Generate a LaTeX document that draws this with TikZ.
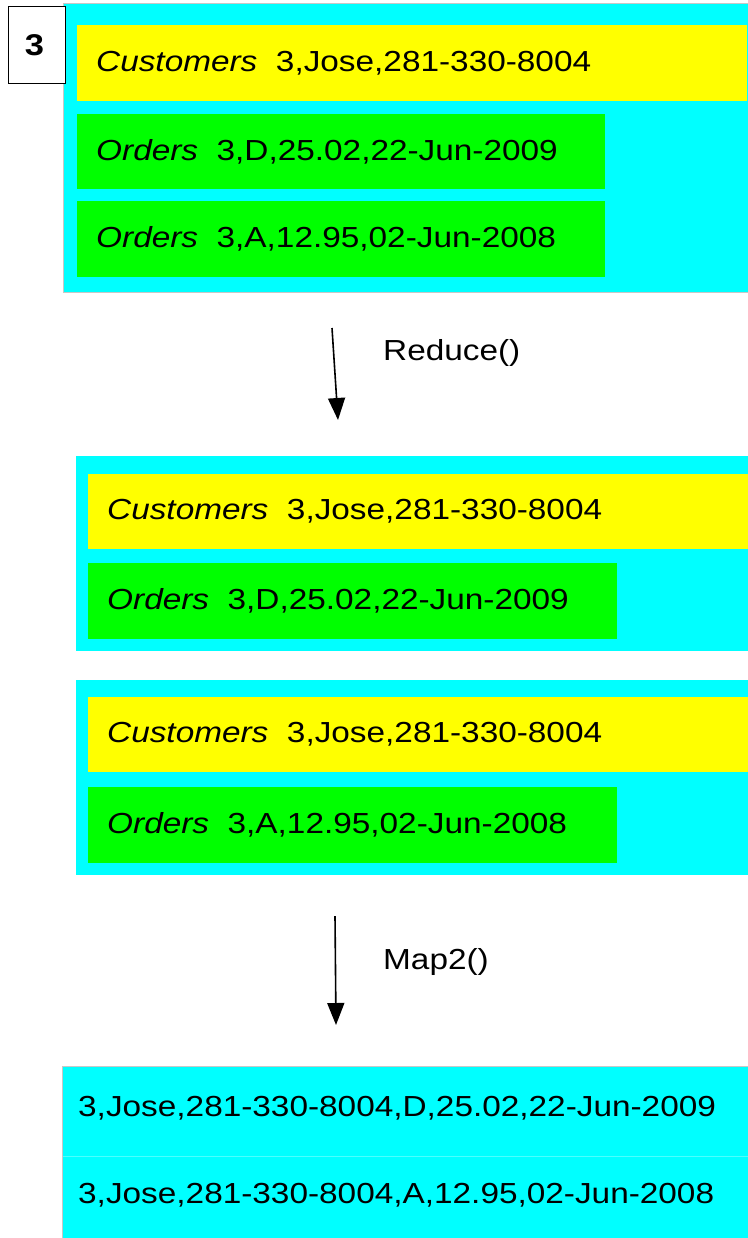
\documentclass[tikz,border=0pt]{standalone}
\usepackage{fontspec}
\setmainfont{Liberation Sans}[FakeStretch=1.15]
\usetikzlibrary{arrows.meta}
\definecolor{cy}{RGB}{0,255,255}
\definecolor{yl}{RGB}{255,255,0}
\definecolor{gr}{RGB}{0,255,0}
\tikzset{
  panel/.style={fill=cy, draw=black!22, line width=0.6pt, anchor=north west, inner sep=0pt},
  custbar/.style={fill=yl, draw=none, anchor=north west, inner sep=0pt},
  ordbar/.style={fill=gr, draw=none, anchor=north west, inner sep=0pt},
  txt/.style={anchor=west, inner sep=0pt, font=\fontsize{29}{32}\selectfont},
  numbox/.style={draw=black, line width=1pt, fill=white, anchor=north west, inner sep=0pt},
  flow/.style={-{Triangle[length=22pt,width=17pt]}, line width=1.6pt},
}
\begin{document}
\begin{tikzpicture}[x=1pt,y=-1pt]
\useasboundingbox (0,0) rectangle (747,1238);
% ---- top group
\node[panel, minimum width=690pt, minimum height=289pt] (p1) at (63,3) {};
\node[custbar, minimum width=670pt, minimum height=76pt] (c1) at (77,25) {};
\node[ordbar, minimum width=528pt, minimum height=75pt] (o1) at (77,114) {};
\node[ordbar, minimum width=528pt, minimum height=76pt] (o2) at (77,201) {};
\node[txt] (tc1) at ([xshift=19pt]c1.west) {\textit{Customers}\ \ 3,Jose,281-330-8004};
\node[txt] (to1) at ([xshift=19pt]o1.west) {\textit{Orders}\ \ 3,D,25.02,22-Jun-2009};
\node[txt] (to2) at ([xshift=19pt]o2.west) {\textit{Orders}\ \ 3,A,12.95,02-Jun-2008};
\node[numbox, minimum width=57pt, minimum height=77pt] (n3) at (8,6) {};
\node[inner sep=0pt, font=\fontsize{30}{32}\selectfont\bfseries] (n3t) at ([xshift=-2.5pt]n3.center) {3};
% ---- arrow 1
\coordinate (a1s) at (332,328);
\coordinate (a1e) at (338,420);
\draw[flow] (a1s) -- (a1e);
\node[txt] (lr) at (383,353) {Reduce()};
% ---- middle groups
\node[panel, draw=none, minimum width=690pt, minimum height=195pt] (p2) at (76,456) {};
\node[custbar, minimum width=660pt, minimum height=75pt] (c2) at (88,474) {};
\node[ordbar, minimum width=529pt, minimum height=76pt] (o3) at (88,563) {};
\node[txt] (tc2) at ([xshift=19pt]c2.west) {\textit{Customers}\ \ 3,Jose,281-330-8004};
\node[txt] (to3) at ([xshift=19pt]o3.west) {\textit{Orders}\ \ 3,D,25.02,22-Jun-2009};
\node[panel, draw=none, minimum width=690pt, minimum height=195pt] (p3) at (76,680) {};
\node[custbar, minimum width=660pt, minimum height=75pt] (c3) at (88,697) {};
\node[ordbar, minimum width=529pt, minimum height=76pt] (o4) at (88,787) {};
\node[txt] (tc3) at ([xshift=19pt]c3.west) {\textit{Customers}\ \ 3,Jose,281-330-8004};
\node[txt] (to4) at ([xshift=19pt]o4.west) {\textit{Orders}\ \ 3,A,12.95,02-Jun-2008};
% ---- arrow 2
\coordinate (a2s) at (335,916);
\coordinate (a2e) at (336,1025);
\draw[flow] (a2s) -- (a2e);
\node[txt] (lm) at (383,962) {Map2()};
% ---- bottom group
\node[panel, minimum width=700pt, minimum height=90pt] (r1) at (62,1066) {};
\node[panel, draw=cy!70!white, minimum width=700pt, minimum height=100pt] (r2) at (62,1156) {};
\draw[black!22, line width=0.6pt] (r2.north west) -- (r2.south west);
\node[txt] (tr1) at (78,1108) {3,Jose,281-330-8004,D,25.02,22-Jun-2009};
\node[txt] (tr2) at (78,1195) {3,Jose,281-330-8004,A,12.95,02-Jun-2008};
\end{tikzpicture}
\end{document}
